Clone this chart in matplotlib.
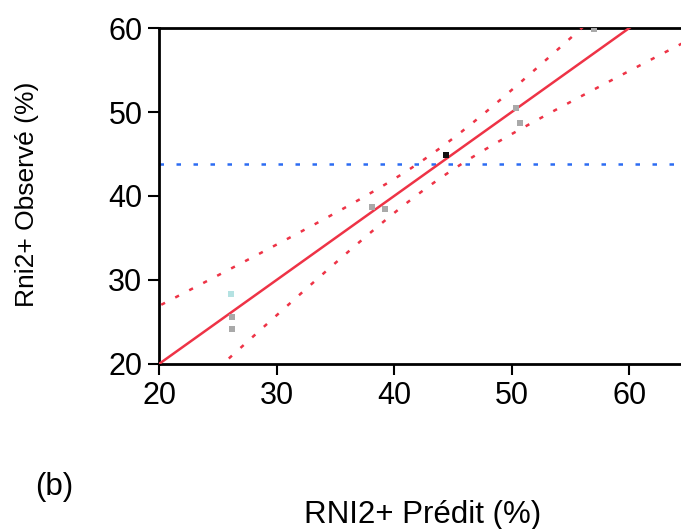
import numpy as np
import matplotlib.pyplot as plt

plt.rcParams['font.family'] = ['Liberation Sans', 'DejaVu Sans']

# predicted vs observed RNI2+ (%)
predit = [26.1, 26.2, 26.2, 38.1, 39.2, 44.4, 50.4, 50.7, 57.0]
observe = [28.3, 25.6, 24.2, 38.7, 38.4, 44.9, 50.5, 48.7, 59.9]
couleurs = ['#b4e2e2', '#a9a9a9', '#a9a9a9', '#a9a9a9', '#a9a9a9',
            '#111111', '#a9a9a9', '#a9a9a9', '#a9a9a9']

# confidence curve around the y = x line, and mean of observed values
centre_ic = 43.3
demi_largeur_min = 1.79
etalement_ic = 0.082
moyenne_y = 43.85

fig = plt.figure(figsize=(6.81, 5.29), dpi=100)
ax = fig.add_axes([0.2335, 0.312, 0.7665, 0.635])

xx = np.linspace(19, 66, 400)
w = np.sqrt(demi_largeur_min**2 + etalement_ic * (xx - centre_ic)**2)

rouge = '#ee3346'
ax.axhline(moyenne_y, color='#2c6cf2', lw=1.8, dashes=(1.8, 5.0), zorder=2)
ax.plot(xx, xx, color=rouge, lw=1.8, zorder=3)
ax.plot(xx, xx + w, color=rouge, lw=1.8, dashes=(1.7, 4.6), zorder=3)
ax.plot(xx, xx - w, color=rouge, lw=1.8, dashes=(1.7, 4.6), zorder=3)

for xp, yp, c in zip(predit, observe, couleurs):
    ax.plot(xp, yp, 's', color=c, ms=4.2, mew=0, zorder=4)

ax.set_xlim(20, 64.4)
ax.set_ylim(20, 60)
ax.set_xticks([20, 30, 40, 50, 60])
ax.set_yticks([20, 30, 40, 50, 60])
ax.spines['right'].set_visible(False)
for s in ['left', 'top', 'bottom']:
    ax.spines[s].set_linewidth(2)
ax.tick_params(direction='out', length=8, width=1.5, labelsize=22, pad=4)

fig.text(0.04, 0.633, 'Rni2+ Observé (%)', rotation=90, ha='center', va='center', fontsize=19)
fig.text(0.621, 0.026, 'RNI2+ Prédit (%)', ha='center', va='center', fontsize=22.5)
fig.text(0.08, 0.08, '(b)', ha='center', va='center', fontsize=22.5)

fig.savefig('out.png', dpi=100)
